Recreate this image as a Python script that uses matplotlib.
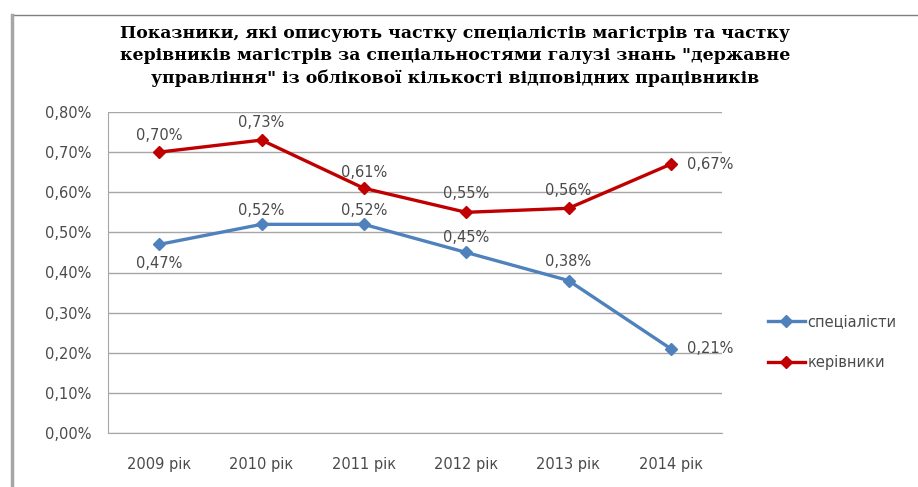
import matplotlib
matplotlib.use("Agg")
import matplotlib.pyplot as plt
from matplotlib.lines import Line2D
from matplotlib.ticker import FuncFormatter, MultipleLocator

years = ["2009 рік", "2010 рік", "2011 рік", "2012 рік", "2013 рік", "2014 рік"]
specialists = [0.47, 0.52, 0.52, 0.45, 0.38, 0.21]
managers = [0.70, 0.73, 0.61, 0.55, 0.56, 0.67]
series_names = ["спеціалісти", "керівники"]
title = ("Показники, які описують частку спеціалістів магістрів та частку\n"
         "керівників магістрів за спеціальностями галузі знань \"державне\n"
         "управління\" із облікової кількості відповідних працівників")

# label placement per point: (dx, dy) in points, horizontal alignment
spec_offsets = [(0, -13.5, "center"), (0, 10, "center"), (0, 10, "center"),
                (0, 11, "center"), (0, 14, "center"), (12, 0, "left")]
mgr_offsets = [(0, 12, "center"), (0, 12.5, "center"), (0, 11.5, "center"),
               (0, 13.5, "center"), (0, 13, "center"), (12, 0, "left")]

BLUE = "#4F81BD"
RED = "#C00000"
TXT = "#4a4a4a"
SANS = ["DejaVu Sans"]
FS = 10.5

def pct(v):
    return f"{v:.2f}%".replace(".", ",")

fig = plt.figure(figsize=(9.18, 4.87), dpi=100)
W, H = 918, 487

# chart frame (top and left edges)
fig.add_artist(Line2D([12 / W, 1.0], [1 - 15 / H, 1 - 15 / H], transform=fig.transFigure,
                      color="#7f7f7f", lw=1.0))
fig.add_artist(Line2D([12 / W, 12 / W], [1 - 15 / H, 0.0], transform=fig.transFigure,
                      color="#a6a6a6", lw=2.5))

ax = fig.add_axes([108 / W, 1 - 433 / H, (722 - 108) / W, (433 - 112) / H])
x = range(len(years))

ax.plot(x, specialists, color=BLUE, lw=2.4, marker="D", ms=6.5, label=series_names[0], zorder=3)
ax.plot(x, managers, color=RED, lw=2.4, marker="D", ms=6.5, label=series_names[1], zorder=3)

for vals, offs in ((specialists, spec_offsets), (managers, mgr_offsets)):
    for xs, v, (dx, dy, ha) in zip(x, vals, offs):
        ax.annotate(pct(v), (xs, v), xytext=(dx, dy), textcoords="offset points",
                    ha=ha, va="center", fontsize=FS, color=TXT, family=SANS)

ax.set_xlim(-0.5, len(years) - 0.5)
ax.set_ylim(0, 0.80)
ax.yaxis.set_major_locator(MultipleLocator(0.10))
ax.yaxis.set_major_formatter(FuncFormatter(lambda v, p: pct(v)))
ax.set_xticks(list(x))
ax.set_xticklabels(years)
ax.grid(axis="y", color="#a6a6a6", lw=1.0)
ax.set_axisbelow(True)
for side in ["top", "right"]:
    ax.spines[side].set_visible(False)
ax.spines["left"].set_color("#a6a6a6")
ax.spines["bottom"].set_color("#a6a6a6")
ax.tick_params(axis="both", length=0, labelsize=FS, labelcolor=TXT)
ax.tick_params(axis="y", pad=12)
ax.tick_params(axis="x", pad=17)
for lbl in ax.get_xticklabels() + ax.get_yticklabels():
    lbl.set_family(SANS)

fig.text(455 / W, 1 - 56 / H, title, ha="center", va="center", fontsize=12.4,
         fontweight="bold", family=["DejaVu Serif"], color="#000000",
         linespacing=1.4)

leg = ax.legend(loc="center left", bbox_to_anchor=(755 / W, 1 - 342 / H),
                bbox_transform=fig.transFigure, frameon=False, handlelength=2.5,
                handletextpad=0.2, labelspacing=1.75, prop={"family": SANS, "size": FS})
for t in leg.get_texts():
    t.set_color(TXT)

fig.savefig("out.png", dpi=100)
